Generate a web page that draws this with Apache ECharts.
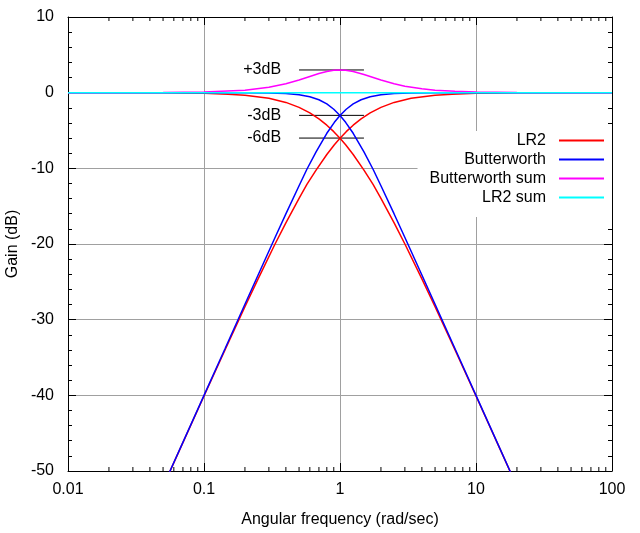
<!DOCTYPE html>
<html>
<head>
<meta charset="utf-8">
<script src="https://cdn.jsdelivr.net/npm/echarts@6/dist/echarts.min.js"></script>
<style>
html,body{margin:0;padding:0;background:#fff;}
#chart{width:640px;height:533px;}
</style>
</head>
<body>
<div id="chart"></div>
<script>
// ---- data ----
const freqLP = [0.01, 0.02, 0.05, 0.1, 0.15, 0.2, 0.3, 0.4, 0.5, 0.6, 0.7, 0.8, 0.9, 1, 1.1, 1.25, 1.5, 1.75, 2, 2.5, 3, 4, 5, 7, 10, 15, 20];
const freqHP = [100, 50, 20, 10, 6.667, 5, 3.333, 2.5, 2, 1.667, 1.429, 1.25, 1.111, 1, 0.909, 0.8, 0.667, 0.571, 0.5, 0.4, 0.333, 0.25, 0.2, 0.143, 0.1, 0.0667, 0.05];
const lr2Gain = [-0.001, -0.003, -0.022, -0.086, -0.193, -0.341, -0.749, -1.289, -1.938, -2.671, -3.464, -4.297, -5.154, -6.021, -6.888, -8.173, -10.238, -12.115, -13.979, -17.207, -20.0, -24.609, -28.299, -33.979, -40.086, -47.082, -52.063];
const bwGain = [0, 0, 0, -0.0004, -0.002, -0.007, -0.035, -0.110, -0.263, -0.529, -0.935, -1.491, -2.191, -3.010, -3.917, -5.367, -7.827, -10.120, -12.304, -16.027, -19.138, -24.099, -27.966, -33.806, -40.000, -47.044, -52.041];
const freqSum = [0.01, 0.02, 0.05, 0.1, 0.2, 0.3, 0.4, 0.5, 0.6, 0.7, 0.8, 0.9, 1, 1.1, 1.25, 1.5, 2, 2.5, 3, 4, 5, 7, 10, 20, 50, 100];
const bwSumGain = [0.001, 0.003, 0.022, 0.086, 0.334, 0.714, 1.179, 1.675, 2.142, 2.529, 2.806, 2.963, 3.010, 2.971, 2.806, 2.411, 1.675, 1.180, 0.862, 0.510, 0.333, 0.173, 0.086, 0.022, 0.003, 0.001];
const freqLr2Sum = [0.01, 0.1, 1, 10, 100];
const lr2SumGain = [0, 0, 0, 0, 0];
const seriesNames = ['LR2', 'Butterworth', 'Butterworth sum', 'LR2 sum'];
const annoLabels = ['+3dB', '-3dB', '-6dB'];
const annoValues = [3, -3, -6];
const annoFrom = 0.5;
const annoTo = 1.5;
const minorXTicks = [0.02,0.03,0.04,0.05,0.06,0.07,0.08,0.09,0.2,0.3,0.4,0.5,0.6,0.7,0.8,0.9,2,3,4,5,6,7,8,9,20,30,40,50,60,70,80,90];

const FONT = 'Liberation Sans, Arial, sans-serif';
const FS = 16;
const colors = {'LR2':'#ff0000','Butterworth':'#0000ff','Butterworth sum':'#ff00ff','LR2 sum':'#00ffff'};
const pairs = (xs, ys) => xs.map((x, i) => [x, ys[i]]);

function lineSeries(name, data) {
  return {
    name: name, type: 'line', data: data, symbol: 'none', showSymbol: false,
    lineStyle: {color: colors[name], width: 1.5}, itemStyle: {color: colors[name]},
    clip: true, silent: true, z: 3
  };
}

const chart = echarts.init(document.getElementById('chart'), null, {renderer: 'canvas'});
function axisCommon() {
  return {
    axisLine: {show: true, onZero: false, lineStyle: {color: '#000', width: 1}},
    axisTick: {show: true, inside: true, length: 8, lineStyle: {color: '#000'}}
  };
}
chart.setOption({
  animation: false,
  backgroundColor: '#fff',
  textStyle: {fontFamily: FONT},
  grid: {left: 68, right: 28, top: 17, bottom: 62, containLabel: false, outerBoundsMode: 'none'},
  legend: {
    data: seriesNames,
    orient: 'vertical', align: 'right',
    right: 28, top: 131,
    padding: [0, 8, 10, 12],
    backgroundColor: '#fff',
    itemWidth: 45, itemHeight: 2, itemGap: 0,
    icon: 'rect',
    textStyle: {fontFamily: FONT, fontSize: FS, color: '#000', lineHeight: 19, padding: [0, 8, 0, 0]},
    selectedMode: false, z: 10
  },
  xAxis: [
    Object.assign({
      type: 'log', logBase: 10, min: 0.01, max: 100, position: 'bottom',
      name: 'Angular frequency (rad/sec)', nameLocation: 'middle', nameGap: 41,
      nameTextStyle: {fontFamily: FONT, fontSize: FS, color: '#000'},
      axisLabel: {fontFamily: FONT, fontSize: FS, color: '#000', margin: 11,
        formatter: v => String(+v.toPrecision(3))},
      splitLine: {show: true, lineStyle: {color: '#a0a0a0', width: 1}},
    }, axisCommon()),
    Object.assign({
      type: 'log', logBase: 10, min: 0.01, max: 100, position: 'top',
      axisLabel: {show: false}, splitLine: {show: false}
    }, axisCommon())
  ],
  yAxis: [
    Object.assign({
      type: 'value', min: -50, max: 10, interval: 10, position: 'left',
      name: 'Gain (dB)', nameLocation: 'middle', nameGap: 47, nameRotate: 90,
      nameMoveOverlap: false,
      nameTextStyle: {fontFamily: FONT, fontSize: FS, color: '#000'},
      axisLabel: {fontFamily: FONT, fontSize: FS, color: '#000', margin: 14},
      splitLine: {show: true, lineStyle: {color: '#a0a0a0', width: 1}},
      minorTick: {show: true, splitNumber: 5, length: 4, lineStyle: {color: '#000'}}
    }, axisCommon()),
    Object.assign({
      type: 'value', min: -50, max: 10, interval: 10, position: 'right',
      axisLabel: {show: false}, splitLine: {show: false},
      minorTick: {show: true, splitNumber: 5, length: 4, lineStyle: {color: '#000'}}
    }, axisCommon())
  ],
  series: [
    {
      type: 'custom', silent: true, z: 1,
      data: minorXTicks.map(v => [v, 0]),
      encode: {x: 0, y: 1},
      renderItem: function (params, api) {
        const v = api.value(0);
        const b = api.coord([v, -50]);
        const t = api.coord([v, 10]);
        return {type: 'group', children: [
          {type: 'line', shape: {x1: b[0], y1: b[1], x2: b[0], y2: b[1] - 4}, style: {stroke: '#000', lineWidth: 1}},
          {type: 'line', shape: {x1: t[0], y1: t[1], x2: t[0], y2: t[1] + 4}, style: {stroke: '#000', lineWidth: 1}}
        ]};
      }
    },
    {
      type: 'custom', silent: true, z: 2,
      data: annoValues.map((v, i) => [annoFrom, v, annoTo, i]),
      encode: {x: [0, 2], y: 1},
      renderItem: function (params, api) {
        const p1 = api.coord([api.value(0), api.value(1)]);
        const p2 = api.coord([api.value(2), api.value(1)]);
        return {type: 'group', children: [
          {type: 'line', shape: {x1: p1[0], y1: p1[1], x2: p2[0], y2: p2[1]}, style: {stroke: '#000', lineWidth: 1}},
          {type: 'text', style: {text: annoLabels[api.value(3)], x: p1[0] - 18, y: p1[1],
            align: 'right', verticalAlign: 'middle', font: FS + 'px ' + FONT, fill: '#000'}}
        ]};
      }
    },
    lineSeries('LR2', pairs(freqLP, lr2Gain)),
    lineSeries('LR2', pairs(freqHP, lr2Gain)),
    lineSeries('Butterworth', pairs(freqLP, bwGain)),
    lineSeries('Butterworth', pairs(freqHP, bwGain)),
    lineSeries('Butterworth sum', pairs(freqSum, bwSumGain)),
    lineSeries('LR2 sum', pairs(freqLr2Sum, lr2SumGain))
  ]
});
</script>
</body>
</html>
